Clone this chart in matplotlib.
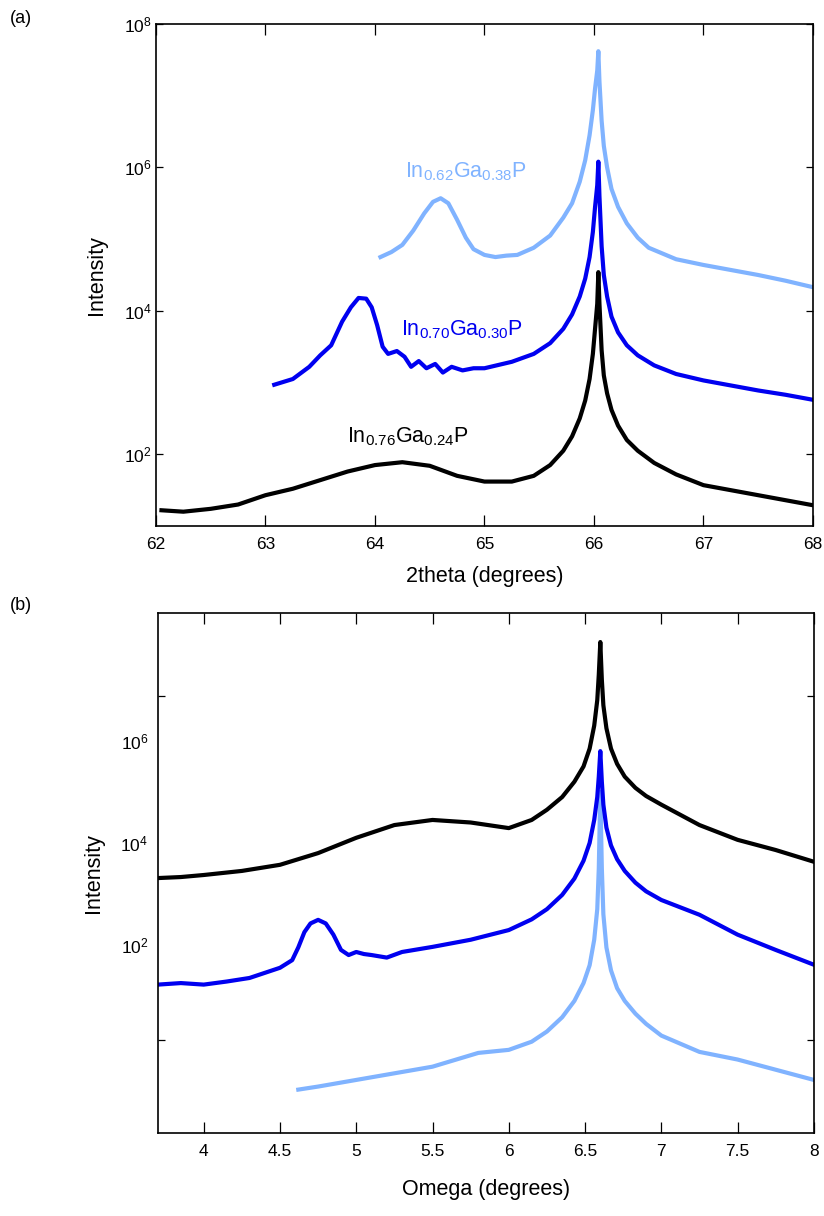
import numpy as np
import matplotlib
matplotlib.use("Agg")
import matplotlib.pyplot as plt
from matplotlib.ticker import FixedLocator, FixedFormatter, NullLocator, NullFormatter

plt.rcParams['font.family'] = ['Liberation Sans', 'DejaVu Sans']
plt.rcParams['mathtext.fontset'] = 'custom'
plt.rcParams['mathtext.rm'] = 'Liberation Sans'
plt.rcParams['mathtext.it'] = 'Liberation Sans'
plt.rcParams['mathtext.default'] = 'regular'

BLACK = '#000000'
BLUE = '#0000f0'
LIGHT = '#80b3ff'

# (a) 2theta scans, intensity stored as log10
a_black_x = [62.05, 62.25, 62.5, 62.75, 63.0, 63.25, 63.5, 63.75, 64.0, 64.25, 64.5, 64.75,
             65.0, 65.25, 65.45, 65.6, 65.72, 65.8, 65.87, 65.92, 65.96, 65.99, 66.01, 66.03,
             66.04, 66.05, 66.07, 66.09, 66.12, 66.16, 66.22, 66.3, 66.4, 66.55, 66.75, 67.0,
             67.25, 67.5, 67.75, 68.0]
a_black_y = [1.22, 1.2, 1.24, 1.3, 1.43, 1.52, 1.64, 1.76, 1.85, 1.89, 1.84, 1.7,
             1.62, 1.62, 1.7, 1.85, 2.05, 2.25, 2.5, 2.75, 3.05, 3.4, 3.75, 4.1,
             4.54, 4.1, 3.45, 3.1, 2.85, 2.62, 2.4, 2.2, 2.05, 1.88, 1.72, 1.57,
             1.5, 1.43, 1.36, 1.29]

a_blue_x = [63.08, 63.25, 63.4, 63.5, 63.6, 63.7, 63.78, 63.85, 63.92, 63.97, 64.02, 64.07,
            64.12, 64.2, 64.27, 64.33, 64.4, 64.47, 64.55, 64.62, 64.7, 64.8, 64.9, 65.0,
            65.25, 65.45, 65.6, 65.72, 65.8, 65.87, 65.92, 65.96, 65.99, 66.01, 66.03, 66.04,
            66.05, 66.07, 66.09, 66.12, 66.16, 66.22, 66.3, 66.4, 66.55, 66.75, 67.0, 67.25,
            67.5, 67.75, 68.0]
a_blue_y = [2.97, 3.05, 3.22, 3.38, 3.52, 3.85, 4.05, 4.18, 4.17, 4.05, 3.8, 3.5,
            3.4, 3.44, 3.36, 3.22, 3.3, 3.2, 3.26, 3.14, 3.22, 3.17, 3.2, 3.2,
            3.29, 3.4, 3.55, 3.75, 3.95, 4.2, 4.45, 4.75, 5.1, 5.45, 5.75, 6.08,
            5.6, 4.9, 4.5, 4.2, 3.92, 3.7, 3.52, 3.38, 3.24, 3.12, 3.03, 2.96,
            2.89, 2.83, 2.76]

a_light_x = [64.05, 64.15, 64.25, 64.35, 64.45, 64.53, 64.6, 64.67, 64.75, 64.83, 64.9, 65.0,
             65.1, 65.2, 65.3, 65.45, 65.6, 65.72, 65.8, 65.87, 65.92, 65.96, 65.99, 66.01,
             66.03, 66.04, 66.05, 66.07, 66.09, 66.12, 66.16, 66.22, 66.3, 66.4, 66.5, 66.75,
             67.0, 67.25, 67.5, 67.75, 68.0]
a_light_y = [4.75, 4.82, 4.92, 5.12, 5.36, 5.52, 5.57, 5.5, 5.27, 5.02, 4.86, 4.78,
             4.75, 4.77, 4.78, 4.88, 5.05, 5.3, 5.5, 5.8, 6.1, 6.45, 6.8, 7.1,
             7.35, 7.62, 7.2, 6.65, 6.3, 6.0, 5.7, 5.45, 5.22, 5.02, 4.88, 4.72,
             4.64, 4.57, 4.5, 4.42, 4.33]

# (b) omega scans, intensity stored as log10
b_black_x = [3.7, 3.85, 4.0, 4.25, 4.5, 4.75, 5.0, 5.25, 5.5, 5.75, 6.0, 6.15,
             6.25, 6.35, 6.43, 6.49, 6.53, 6.56, 6.58, 6.59, 6.6, 6.61, 6.62, 6.64,
             6.67, 6.71, 6.76, 6.83, 6.9, 7.0, 7.25, 7.5, 7.75, 8.0]
b_black_y = [3.31, 3.33, 3.37, 3.45, 3.57, 3.8, 4.1, 4.35, 4.45, 4.4, 4.29, 4.45,
             4.65, 4.9, 5.2, 5.5, 5.85, 6.3, 6.8, 7.3, 7.94, 7.2, 6.7, 6.25,
             5.85, 5.55, 5.3, 5.08, 4.92, 4.75, 4.35, 4.06, 3.86, 3.63]

b_blue_x = [3.7, 3.85, 4.0, 4.15, 4.3, 4.5, 4.58, 4.62, 4.66, 4.7, 4.75, 4.8,
            4.85, 4.9, 4.95, 5.0, 5.05, 5.1, 5.2, 5.3, 5.5, 5.75, 6.0, 6.15,
            6.25, 6.35, 6.43, 6.49, 6.53, 6.56, 6.58, 6.59, 6.6, 6.61, 6.62, 6.64,
            6.67, 6.71, 6.76, 6.83, 6.9, 7.0, 7.25, 7.5, 7.75, 8.0]
b_blue_y = [1.22, 1.25, 1.22, 1.28, 1.35, 1.55, 1.7, 1.95, 2.25, 2.42, 2.49, 2.42,
            2.2, 1.9, 1.8, 1.86, 1.82, 1.8, 1.75, 1.86, 1.96, 2.1, 2.29, 2.5,
            2.7, 2.98, 3.3, 3.65, 4.0, 4.45, 4.9, 5.3, 5.8, 5.2, 4.75, 4.3,
            3.95, 3.68, 3.45, 3.22, 3.05, 2.88, 2.59, 2.2, 1.9, 1.61]

b_light_x = [4.62, 4.75, 5.0, 5.25, 5.5, 5.8, 6.0, 6.15, 6.25, 6.35, 6.43, 6.49,
             6.53, 6.56, 6.58, 6.59, 6.6, 6.61, 6.62, 6.64, 6.67, 6.71, 6.76, 6.83,
             6.9, 7.0, 7.25, 7.5, 7.75, 8.0]
b_light_y = [-0.84, -0.78, -0.65, -0.52, -0.39, -0.12, -0.06, 0.1, 0.3, 0.58, 0.9, 1.25,
             1.6, 2.1, 2.7, 3.5, 5.0, 3.5, 2.6, 1.95, 1.5, 1.15, 0.9, 0.65,
             0.45, 0.22, -0.1, -0.25, -0.45, -0.65]

LW = 3.0


def style_axes(ax):
    for s in ax.spines.values():
        s.set_linewidth(1.2)
    ax.tick_params(which='both', direction='in', top=True, right=True, labelsize=12.5)
    ax.tick_params(axis='x', which='major', length=8, width=0.9, pad=8)


fig = plt.figure(figsize=(8.24, 12.16), dpi=100)

# ---- (a)
ax1 = fig.add_axes([0.1893, 0.5674, 0.7973, 0.4129])
ax1.set_yscale('log')
ax1.plot(a_light_x, 10 ** np.array(a_light_y), color=LIGHT, lw=LW)
ax1.plot(a_blue_x, 10 ** np.array(a_blue_y), color=BLUE, lw=LW)
ax1.plot(a_black_x, 10 ** np.array(a_black_y), color=BLACK, lw=LW)
ax1.set_xlim(62, 68)
ax1.set_ylim(1e1, 1e8)
ax1.set_xticks([62, 63, 64, 65, 66, 67, 68])
ax1.yaxis.set_major_locator(FixedLocator([1e2, 1e4, 1e6, 1e8]))
ax1.yaxis.set_major_formatter(FixedFormatter(['10$^{2}$', '10$^{4}$', '10$^{6}$', '10$^{8}$']))
ax1.yaxis.set_minor_locator(NullLocator())
style_axes(ax1)
ax1.tick_params(axis='y', which='major', length=5, width=0.9, pad=3)
ax1.set_xlabel('2theta (degrees)', fontsize=15.5, labelpad=10)
ax1.set_ylabel('Intensity', fontsize=15.5, labelpad=12)
ax1.text(64.83, 8.7e5, 'In$_{0.62}$Ga$_{0.38}$P', color=LIGHT, fontsize=15.5,
         ha='center', va='center')
ax1.text(64.79, 5.4e3, 'In$_{0.70}$Ga$_{0.30}$P', color=BLUE, fontsize=15.5,
         ha='center', va='center')
ax1.text(64.30, 1.74e2, 'In$_{0.76}$Ga$_{0.24}$P', color=BLACK, fontsize=15.5,
         ha='center', va='center')

# ---- (b)
ax2 = fig.add_axes([0.1917, 0.0683, 0.7960, 0.4276])
ax2.set_yscale('log')
ax2.plot(b_light_x, 10 ** np.array(b_light_y), color=LIGHT, lw=LW)
ax2.plot(b_blue_x, 10 ** np.array(b_blue_y), color=BLUE, lw=LW)
ax2.plot(b_black_x, 10 ** np.array(b_black_y), color=BLACK, lw=LW)
ax2.set_xlim(3.7, 8)
ax2.set_ylim(10 ** -1.69, 10 ** 8.51)
ax2.set_xticks([4, 4.5, 5, 5.5, 6, 6.5, 7, 7.5, 8])
ax2.set_xticklabels(['4', '4.5', '5', '5.5', '6', '6.5', '7', '7.5', '8'])
ax2.yaxis.set_major_locator(FixedLocator([1e2, 1e4, 1e6]))
ax2.yaxis.set_major_formatter(FixedFormatter(['10$^{2}$', '10$^{4}$', '10$^{6}$']))
ax2.yaxis.set_minor_locator(FixedLocator([10 ** 0.14, 10 ** 6.88]))
ax2.yaxis.set_minor_formatter(NullFormatter())
style_axes(ax2)
ax2.tick_params(axis='y', which='major', length=0, pad=7)
ax2.tick_params(axis='y', which='minor', length=5, width=0.9)
ax2.tick_params(axis='x', which='minor', length=0)
ax2.set_xlabel('Omega (degrees)', fontsize=15.5, labelpad=14)
ax2.set_ylabel('Intensity', fontsize=15.5, labelpad=12)

fig.text(0.012, 0.985, '(a)', fontsize=13, ha='left', va='center')
fig.text(0.012, 0.502, '(b)', fontsize=13, ha='left', va='center')

fig.savefig('out.png', dpi=100)
